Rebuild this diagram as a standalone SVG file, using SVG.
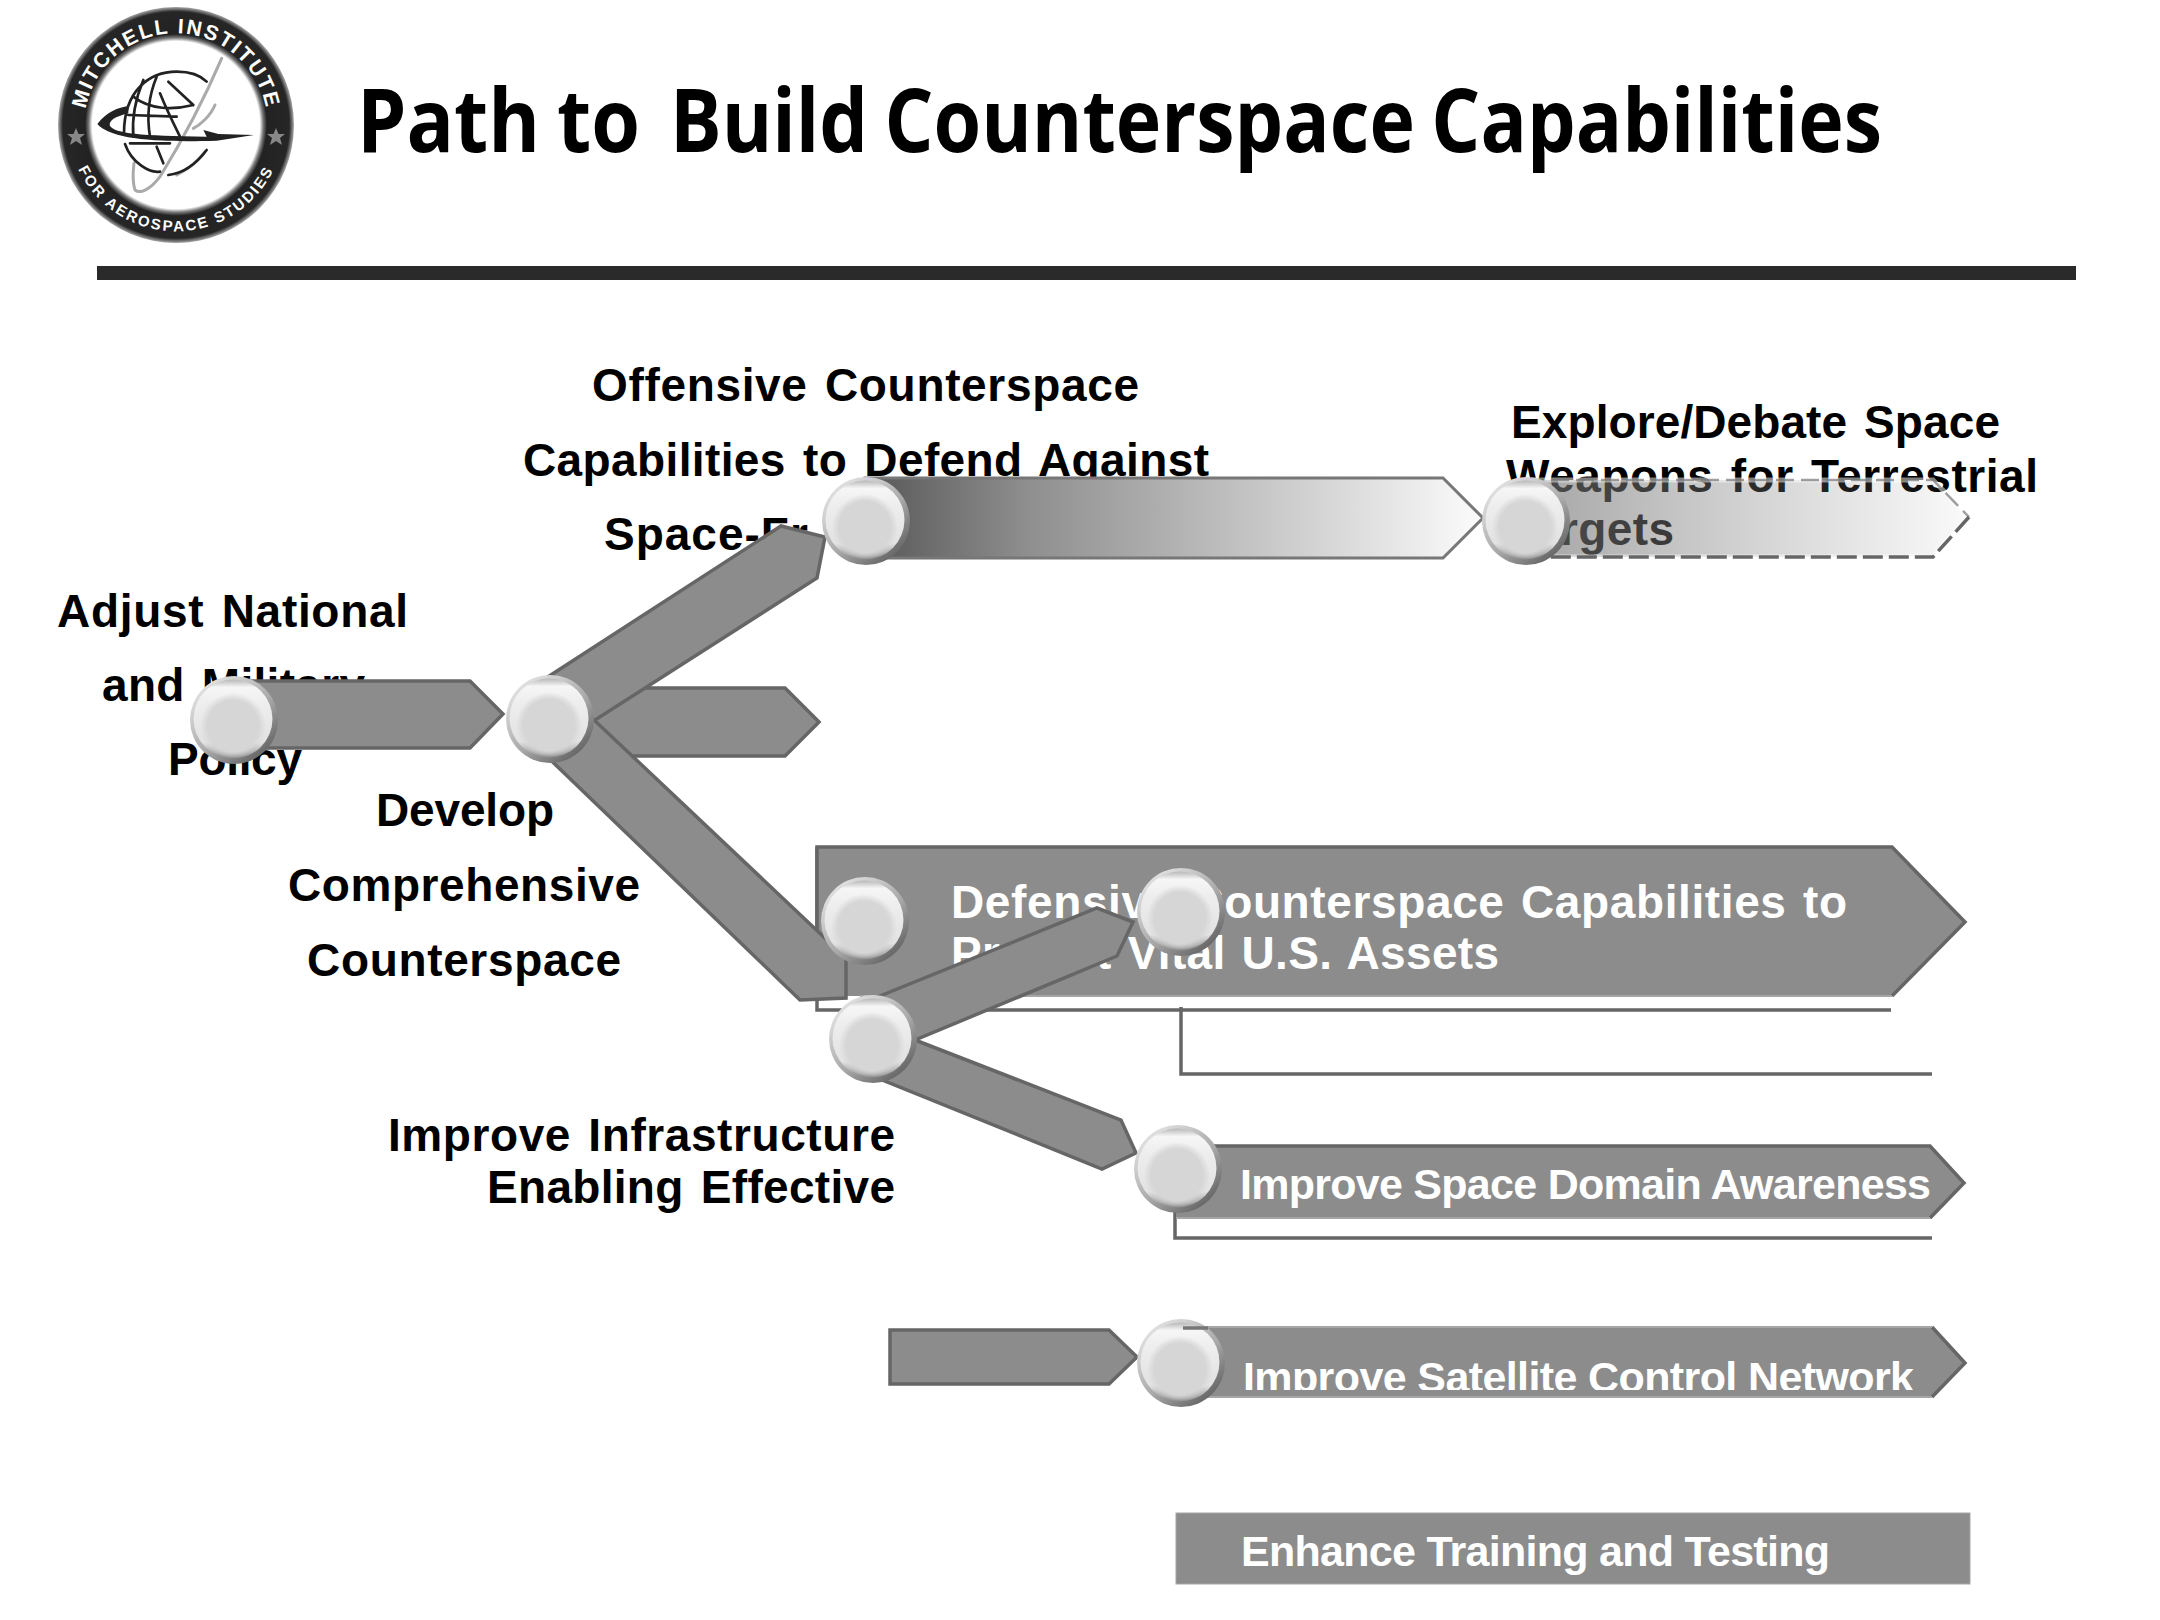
<svg xmlns="http://www.w3.org/2000/svg" xmlns:xlink="http://www.w3.org/1999/xlink" width="2160" height="1620" viewBox="0 0 2160 1620">
<style>
text{font-family:"Liberation Sans",Arial,sans-serif;font-weight:700}
.lb{font-size:46px;fill:#000;word-spacing:4px}
.wt{font-size:46px;fill:#fff;word-spacing:3px}
.wm{font-size:43px;fill:#fff}
.title{font-family:"Open Sans","Noto Sans",sans-serif;font-size:88px;font-weight:700;fill:#000;word-spacing:-4px}
.bar{fill:#8c8c8c;stroke:#666;stroke-width:3.5;stroke-linejoin:miter}
.edge{fill:none;stroke:#666;stroke-width:3.5}
.lite{fill:none;stroke:#a6a6a6;stroke-width:2}
.g{fill:none;stroke:#222;stroke-width:8;stroke-linecap:round}
.gs{fill:none;stroke:#aaa;stroke-width:9;stroke-linecap:round}
</style>
<defs>
<linearGradient id="gradOff" gradientUnits="userSpaceOnUse" x1="875" y1="0" x2="1480" y2="0"><stop offset="0" stop-color="#5a5a5a"/><stop offset=".25" stop-color="#8e8e8e"/><stop offset="1" stop-color="#fbfbfb"/></linearGradient>
<linearGradient id="gradExp" gradientUnits="userSpaceOnUse" x1="1510" y1="0" x2="1980" y2="0"><stop offset="0" stop-color="#757575" stop-opacity=".68"/><stop offset="1" stop-color="#8a8a8a" stop-opacity=".03"/></linearGradient>
<linearGradient id="rim" x1=".15" y1=".1" x2=".85" y2=".95"><stop offset="0" stop-color="#e2e2e2"/><stop offset=".55" stop-color="#a8a8a8"/><stop offset="1" stop-color="#5e5e5e"/></linearGradient>
<linearGradient id="shine" x1="0" y1="0" x2="0" y2="1"><stop offset="0" stop-color="#b8b8b8"/><stop offset=".1" stop-color="#f6f6f6"/><stop offset=".3" stop-color="#eee"/><stop offset=".8" stop-color="#e2e2e2"/><stop offset=".93" stop-color="#aaa"/><stop offset="1" stop-color="#808080"/></linearGradient>
<radialGradient id="core"><stop offset="0" stop-color="#d6d6d6"/><stop offset=".78" stop-color="#d6d6d6"/><stop offset="1" stop-color="#d6d6d6" stop-opacity="0"/></radialGradient>
<radialGradient id="ring"><stop offset="0" stop-color="#fff"/><stop offset=".71" stop-color="#fff"/><stop offset=".74" stop-color="#777"/><stop offset=".77" stop-color="#222"/><stop offset=".96" stop-color="#262626"/><stop offset="1" stop-color="#aaa"/></radialGradient>
<g id="sphere"><circle r="44" fill="url(#rim)"/><circle cx="-1" cy="-1" r="39.5" fill="url(#shine)"/><circle cx="-1" cy="6" r="33" fill="url(#core)"/></g>
<path id="arcTop" d="M93 164 A91.700 91.700 0 1 1 259 164"/>
<path id="arcBot" d="M70 144 A108 108 0 0 0 282 144"/>
<clipPath id="satClip"><rect x="1200" y="1340" width="760" height="50"/></clipPath>
</defs>
<rect width="2160" height="1620" fill="#fff"/>

<g id="logo">
<circle cx="176" cy="125" r="118" fill="url(#ring)"/>
<text font-size="21" fill="#fff" text-anchor="middle" style="letter-spacing:2px"><textPath href="#arcTop" xlink:href="#arcTop" startOffset="50%">MITCHELL INSTITUTE</textPath></text>
<text font-size="15" fill="#fff" text-anchor="middle" style="letter-spacing:2.200px"><textPath href="#arcBot" xlink:href="#arcBot" startOffset="50%">FOR AEROSPACE STUDIES</textPath></text>
<polygon points="76,128 78.500,134 85,134 80,138 82,145 76,141 70,145 72,138 67,134 73.500,134" fill="#888"/>
<polygon points="276,128 278.500,134 285,134 280,138 282,145 276,141 270,145 272,138 267,134 273.500,134" fill="#888"/>
<g transform="scale(.33333)">
<path class="gs" d="M665 175C620 280 560 400 480 530C450 570 420 582 405 570C395 540 400 510 402 490" stroke-width="12"/>
<path class="gs" d="M645 315C630 350 600 375 580 385M615 455C590 490 560 510 530 525" stroke-width="6"/>
<path class="g" d="M372 400C372 270 450 215 530 215C570 215 600 225 620 245M385 345L530 350M400 290C450 330 520 330 580 315M430 240C405 300 395 350 400 410M470 230C445 290 440 350 450 410M480 280C500 330 525 380 540 410M505 245L580 315M375 432C395 490 450 520 480 515M390 430L510 430M470 440L490 490M505 525C550 520 590 490 620 450"/>
<path d="M292 372C320 335 355 322 385 318L385 340C345 350 325 362 330 378C345 400 420 408 620 410L610 390L655 402L762 405L650 422C450 428 330 415 292 372Z" fill="#222"/>
</g>
</g>

<g id="title">
<text class="title" x="357" y="152" textLength="283" lengthAdjust="spacingAndGlyphs">Path to</text>
<text class="title" x="670" y="152" textLength="1212" lengthAdjust="spacingAndGlyphs">Build Counterspace Capabilities</text>
<rect x="97" y="266" width="1979" height="14" fill="#2a2a2a"/>
</g>

<g id="node-adjust">
<text class="lb" x="57" y="627" textLength="351">Adjust National</text>
<text class="lb" x="102" y="701" textLength="263">and Military</text>
<text class="lb" x="168" y="775" textLength="134">Policy</text>
<polygon class="bar" points="235,681 470,681 503,714 470,748 235,748"/>
</g>

<g id="node-develop">
<text class="lb" x="376" y="826" textLength="178">Develop</text>
<text class="lb" x="288" y="901" textLength="352">Comprehensive</text>
<text class="lb" x="307" y="976" textLength="314">Counterspace</text>
</g>

<g id="node-offensive">
<text class="lb" x="592" y="401" textLength="547">Offensive Counterspace</text>
<text class="lb" x="523" y="476" textLength="686">Capabilities to Defend Against</text>
<text class="lb" x="604" y="550" style="letter-spacing:1px">Space-Fr</text>
<polygon points="865,478 1443,478 1483,518 1443,558 865,558" fill="url(#gradOff)" stroke="#777" stroke-width="3"/>
</g>

<g id="node-explore">
<text class="lb" x="1511" y="438" textLength="489">Explore/Debate Space</text>
<text class="lb" x="1506" y="492" textLength="532">Weapons for Terrestrial</text>
<text class="lb" x="1509" y="545" textLength="165">Targets</text>
<polygon points="1526,480 1933,480 1969,517 1933,557 1526,557" fill="url(#gradExp)"/>
<polyline points="1526,557 1933,557 1969,517 1933,480 1526,480" fill="none" stroke="#fff" stroke-width="5" stroke-opacity=".5"/>
<polyline points="1526,480 1933,480 1969,517" fill="none" stroke="#777" stroke-width="2.500" stroke-dasharray="18 7" stroke-opacity=".7"/>
<polyline points="1969,517 1933,557 1526,557" fill="none" stroke="#666" stroke-width="3.500" stroke-dasharray="20 6"/>
</g>

<g id="node-short">
<polygon class="bar" points="580,688 785,688 819,722 785,756 580,756"/>
</g>

<g id="node-defensive">
<polyline class="edge" points="817,847 817,1010 1891,1010"/>
<polyline class="edge" points="1181,1007 1181,1074 1932,1074"/>
<polygon points="817,847 1892,847 1965,922 1892,996 817,996" fill="#8c8c8c"/>
<polyline class="edge" points="817,1000 817,847 1892,847 1965,922 1892,996"/>
<polyline class="lite" points="1892,996 860,996"/>
<text class="wt" x="951" y="918" textLength="896">Defensive Counterspace Capabilities to</text>
<text class="wt" x="951" y="969" textLength="548">Protect Vital U.S. Assets</text>
</g>

<g id="node-infrastructure">
<text class="lb" x="388" y="1151" textLength="507">Improve Infrastructure</text>
<text class="lb" x="487" y="1203" textLength="408">Enabling Effective</text>
</g>

<g id="node-sda">
<polyline class="edge" points="1175,1200 1175,1238 1932,1238"/>
<polygon points="1176,1146 1930,1146 1964,1183 1930,1218 1176,1218" fill="#8c8c8c"/>
<polyline class="edge" points="1176,1146 1930,1146 1964,1183 1930,1218"/>
<polyline class="lite" points="1176,1218 1930,1218"/>
<text class="wm" x="1240" y="1199" textLength="691">Improve Space Domain Awareness</text>
</g>

<g id="node-satellite">
<polygon points="1180,1327 1932,1327 1965,1363 1932,1397 1180,1397" fill="#8c8c8c"/>
<polyline class="edge" points="1932,1327 1965,1363 1932,1397"/>
<polyline class="lite" points="1180,1327 1932,1327"/>
<polyline class="lite" points="1180,1397 1932,1397"/>
<text class="wm" x="1243" y="1392" textLength="671" clip-path="url(#satClip)">Improve Satellite Control Network</text>
</g>

<g id="node-training">
<rect x="1176" y="1513" width="794" height="71" fill="#8c8c8c" stroke="#a6a6a6" stroke-width="1"/>
<text class="wm" x="1241" y="1566" textLength="589">Enhance Training and Testing</text>
</g>

<g id="connectors">
<polygon class="bar" points="540,682 781,526 825,537 817,578 592,722 550,740"/>
<polygon class="bar" points="535,745 592,718 846,958 846,998 800,1000"/>
<polygon class="bar" points="870,1000 1097,908 1133,922 1117,956 915,1040"/>
<polygon class="bar" points="915,1040 1121,1120 1136,1153 1102,1169 870,1075"/>
<polygon class="bar" points="890,1330 1109,1330 1137,1357 1109,1384 890,1384"/>
</g>

<g id="spheres">
<use id="sphere-adjust" href="#sphere" xlink:href="#sphere" x="234" y="720"/>
<use id="sphere-develop" href="#sphere" xlink:href="#sphere" x="550" y="719"/>
<use id="sphere-offensive" href="#sphere" xlink:href="#sphere" x="866" y="521"/>
<use id="sphere-explore" href="#sphere" xlink:href="#sphere" x="1526" y="521"/>
<use id="sphere-defensive" href="#sphere" xlink:href="#sphere" x="865" y="921"/>
<use id="sphere-defensive-2" href="#sphere" xlink:href="#sphere" x="1181" y="912"/>
<use id="sphere-infrastructure" href="#sphere" xlink:href="#sphere" x="873" y="1039"/>
<use id="sphere-sda" href="#sphere" xlink:href="#sphere" x="1178" y="1169"/>
<use id="sphere-satellite" href="#sphere" xlink:href="#sphere" x="1181" y="1363"/>
<line x1="1183" y1="1328" x2="1208" y2="1328" stroke="#777" stroke-width="3.500"/>
</g>
</svg>
